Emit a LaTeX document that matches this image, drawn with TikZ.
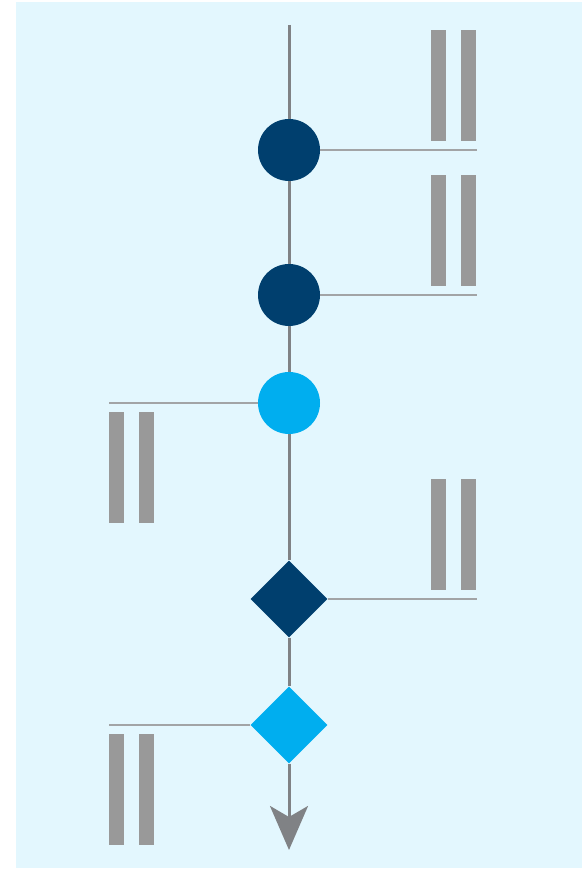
\documentclass[tikz,border=0pt]{standalone}
\usepackage{tikz}
\usetikzlibrary{shapes.geometric}
\usetikzlibrary{arrows.meta}
\usetikzlibrary{positioning}
\definecolor{paleblue}{HTML}{E3F7FE}
\definecolor{navy}{HTML}{003F6E}
\definecolor{skyblue}{HTML}{00AEEF}
\definecolor{axisgray}{HTML}{808285}
\definecolor{linkgray}{HTML}{A2A4A6}
\definecolor{bargray}{HTML}{999999}
\begin{document}
\begin{tikzpicture}[x=1pt, y=1pt,
dot/.style={circle, minimum size=62pt, inner sep=0pt},
gem/.style={diamond, aspect=1, minimum size=77pt, inner sep=0pt},
axis/.style={draw=axisgray, line width=3pt},
link/.style={draw=linkgray, line width=2pt},
bar/.style={fill=bargray, minimum width=15pt, minimum height=111pt, inner sep=0pt}]
\useasboundingbox (0,0) rectangle (587,870);
\fill[paleblue] (16,2) rectangle (582,868);
\coordinate (top) at (289,845);
\coordinate (tip) at (289,20);
\node[dot, fill=navy] (c1) at (289,720) {};
\node[dot, fill=navy] (c2) at (289,575) {};
\node[dot, fill=skyblue] (c3) at (289,467) {};
\node[gem, fill=navy] (d1) at (289,271) {};
\node[gem, fill=skyblue] (d2) at (289,145) {};
\coordinate (r1) at (477,720);
\coordinate (r2) at (477,575);
\coordinate (l3) at (109,467);
\coordinate (r4) at (477,271);
\coordinate (l5) at (109,145);
\draw[axis] (top) -- (c1);
\draw[axis] (c1) -- (c2);
\draw[axis] (c2) -- (c3);
\draw[axis] (c3) -- (d1);
\draw[axis] (d1) -- (d2);
\draw[axis, -{Stealth[length=44pt, width=38pt, inset=11pt]}] (d2) -- (tip);
\draw[link] (c1) -- (r1);
\draw[link] (c2) -- (r2);
\draw[link] (c3) -- (l3);
\draw[link] (d1) -- (r4);
\draw[link] (d2) -- (l5);
\node[bar, above left=9pt and 1pt of r1] (t1b) {};
\node[bar, left=14pt of t1b] (t1a) {};
\node[bar, above left=9pt and 1pt of r2] (t2b) {};
\node[bar, left=14pt of t2b] (t2a) {};
\node[bar, below right=9pt and 0pt of l3] (t3a) {};
\node[bar, right=14pt of t3a] (t3b) {};
\node[bar, above left=9pt and 1pt of r4] (t4b) {};
\node[bar, left=14pt of t4b] (t4a) {};
\node[bar, below right=9pt and 0pt of l5] (t5a) {};
\node[bar, right=14pt of t5a] (t5b) {};
\end{tikzpicture}
\end{document}
